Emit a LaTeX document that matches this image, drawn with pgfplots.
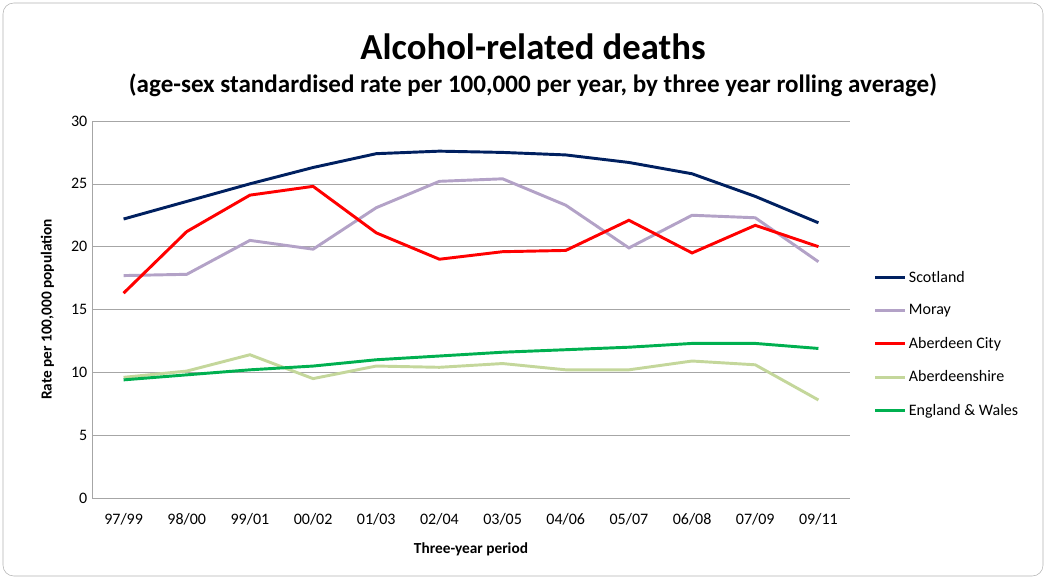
\documentclass[border=0pt]{standalone}
\usepackage{pgfplots}
\pgfplotsset{compat=1.18}
\usepackage{fontspec}
\setmainfont{Carlito}
\begin{document}
\begin{tikzpicture}[x=0.75pt,y=0.75pt]
\path[use as bounding box] (0,0) rectangle (1046,579);
\draw[rounded corners=8pt,gray!60] (3,3) rectangle (1043,576);
\node at (533,532) {\fontsize{27.5}{32}\selectfont\bfseries Alcohol-related deaths};
\node at (533,494) {\fontsize{18.8}{22}\selectfont\bfseries (age-sex standardised rate per 100,000 per year, by three year rolling average)};
\begin{axis}[at={(69pt,60.75pt)},anchor=south west,scale only axis,
 width=568.5pt,height=282.75pt,
 xmin=-0.5,xmax=11.5,ymin=0,ymax=30,ytick={0,5,...,30},
 xtick={0,...,11},
 xticklabels={97/99,98/00,99/01,00/02,01/03,02/04,03/05,04/06,05/07,06/08,07/09,09/11},
 ymajorgrids,major grid style={gray!70},
 axis line style={gray!70},tick style={gray!70},
 major tick length=4pt,
 ytick style={draw=none},
 extra x ticks={-0.5,0.5,...,11.5},extra x tick labels={},
 extra x tick style={grid=none,major tick length=5pt,tick pos=left},
 xtick style={draw=none},
 axis x line*=bottom,axis y line*=left,
 ticklabel style={font=\fontsize{12}{14}\selectfont},
 xticklabel style={yshift=-8pt},
 /pgf/number format/assume math mode=true,
 xlabel={\bfseries Three-year period},ylabel={\bfseries Rate per 100,000 population},
 xlabel style={yshift=-6pt},ylabel style={yshift=6pt},
 label style={font=\fontsize{11.5}{13}\selectfont},
 legend style={at={(1.026,0.617)},anchor=north west,draw=none,fill=none,
   font=\fontsize{12}{14}\selectfont,row sep=11.3pt,
   /tikz/every even column/.append style={column sep=6pt}},
 legend image code/.code={\draw[#1] (0pt,0pt) -- (22pt,0pt);},
 legend cell align=left,
 every axis plot/.append style={line width=2.2pt,mark=none},
]
\addplot[color={rgb,255:red,0;green,32;blue,96}] coordinates {(0,22.2)(1,23.6)(2,25.0)(3,26.3)(4,27.4)(5,27.6)(6,27.5)(7,27.3)(8,26.7)(9,25.8)(10,24.0)(11,21.9)};
\addplot[color={rgb,255:red,179;green,162;blue,199}] coordinates {(0,17.7)(1,17.8)(2,20.5)(3,19.8)(4,23.1)(5,25.2)(6,25.4)(7,23.3)(8,19.9)(9,22.5)(10,22.3)(11,18.8)};
\addplot[color={rgb,255:red,255;green,0;blue,0}] coordinates {(0,16.3)(1,21.2)(2,24.1)(3,24.8)(4,21.1)(5,19.0)(6,19.6)(7,19.7)(8,22.1)(9,19.5)(10,21.7)(11,20.0)};
\addplot[color={rgb,255:red,196;green,215;blue,155}] coordinates {(0,9.6)(1,10.1)(2,11.4)(3,9.5)(4,10.5)(5,10.4)(6,10.7)(7,10.2)(8,10.2)(9,10.9)(10,10.6)(11,7.8)};
\addplot[color={rgb,255:red,0;green,176;blue,80}] coordinates {(0,9.4)(1,9.8)(2,10.2)(3,10.5)(4,11.0)(5,11.3)(6,11.6)(7,11.8)(8,12.0)(9,12.3)(10,12.3)(11,11.9)};
\legend{Scotland,Moray,Aberdeen City,Aberdeenshire,England \& Wales}
\end{axis}
\end{tikzpicture}
\end{document}
